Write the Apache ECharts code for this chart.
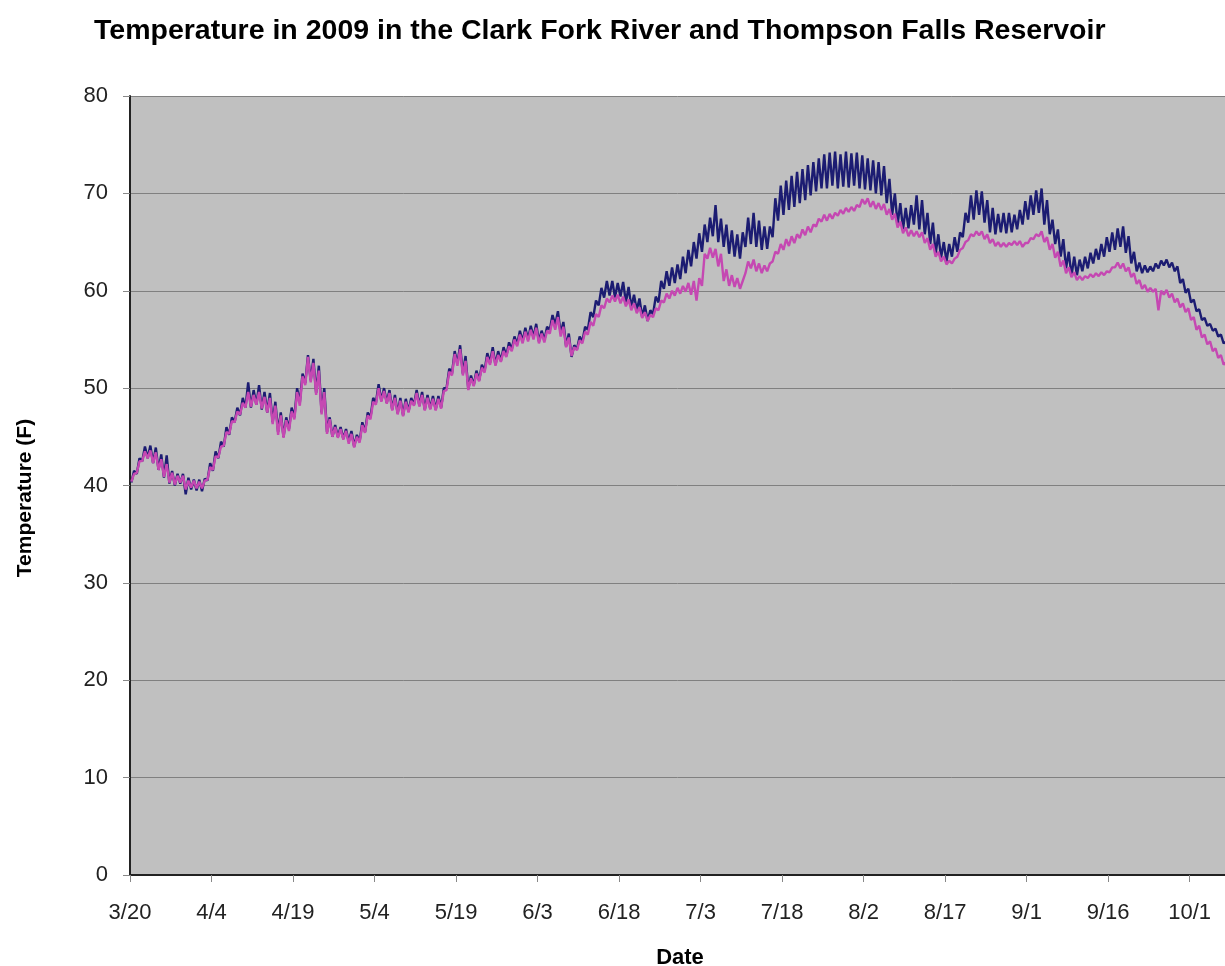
<!DOCTYPE html>
<html>
<head>
<meta charset="utf-8">
<script src="https://cdn.jsdelivr.net/npm/echarts@6/dist/echarts.min.js"></script>
<style>html,body{margin:0;padding:0;background:#fff;}#c{width:1225px;height:966px;}</style>
</head>
<body>
<div id="c"></div>
<script>
// Day offsets from 3/20/2009; one low (morning) and one high (afternoon) reading per day
const tickLabels = ['3/20','4/4','4/19','5/4','5/19','6/3','6/18','7/3','7/18','8/2','8/17','9/1','9/16','10/1'];

const riverLo = [
40.3,41.2,42.5,42.8,42.3,41.6,40.8,40.2,40.0,40.2,
39.1,39.6,39.5,39.4,40.5,41.5,42.8,44.0,45.2,46.5,
47.2,48.0,48.0,48.3,47.8,47.5,46.5,45.5,45.0,45.8,
47.0,48.5,50.5,50.8,49.5,47.5,45.5,45.0,45.0,44.8,
44.5,44.0,44.5,45.5,47.0,48.5,48.7,48.5,47.8,47.4,
47.2,47.6,48.3,48.2,47.8,47.9,47.8,48.0,50.0,51.5,
52.5,51.5,49.9,50.3,50.8,51.8,52.6,52.4,52.8,53.3,
54.0,54.5,54.8,55.0,55.2,54.8,54.9,56.0,56.5,55.6,
54.3,53.2,54.0,54.8,56.0,57.3,58.5,59.3,59.5,59.3,
59.4,58.8,58.3,58.0,57.3,56.9,57.6,58.8,60.2,60.5,
60.8,61.2,61.8,62.5,63.3,64.0,65.0,65.6,65.0,64.5,
63.8,63.5,63.3,64.5,64.8,64.5,64.2,64.3,65.5,67.2,
67.8,68.3,68.6,69.0,69.3,69.8,70.2,70.5,70.5,70.8,
70.5,70.7,70.6,70.8,70.5,70.4,70.3,70.0,69.8,69.0,
67.8,66.8,66.3,66.4,66.8,66.3,65.8,64.8,63.8,63.4,
63.0,63.5,64.0,65.5,67.0,67.3,67.8,67.0,66.0,65.8,
66.0,65.9,66.0,66.3,66.8,67.3,67.8,68.0,66.8,65.8,
64.8,63.5,62.3,61.5,61.6,62.0,62.3,62.8,63.2,63.5,
64.0,64.2,64.5,63.9,62.8,62.0,61.8,61.9,62.0,62.3,
62.6,62.4,62.0,60.8,59.8,58.8,57.9,57.0,56.4,55.9,
55.3,54.6,54.0];

const riverHi = [
41.5,42.8,44.0,44.1,43.9,43.2,43.1,41.5,41.2,41.2,
40.8,40.6,40.6,40.7,42.3,43.5,44.5,46.0,47.0,48.0,
49.0,50.6,49.8,50.3,49.6,49.5,48.6,47.5,47.0,48.0,
50.0,51.5,53.4,53.0,52.3,50.0,47.0,46.2,46.0,45.8,
45.6,45.2,46.5,47.5,49.0,50.4,50.0,49.8,49.3,49.0,
48.9,49.0,49.8,49.6,49.3,49.2,49.2,50.0,52.0,53.8,
54.4,53.3,51.3,51.8,52.4,53.6,54.2,53.8,54.2,54.7,
55.3,55.9,56.2,56.4,56.6,55.9,56.3,57.5,57.9,56.8,
55.6,54.4,55.3,56.3,57.8,59.0,60.3,61.0,61.0,60.8,
60.9,60.4,59.6,59.2,58.5,58.0,59.4,61.0,62.0,62.4,
62.7,63.5,64.2,65.0,65.9,66.8,67.5,68.8,67.4,66.8,
66.2,65.8,66.0,67.5,68.0,67.2,66.6,66.6,69.5,70.8,
71.3,71.8,72.2,72.5,72.9,73.2,73.6,74.0,74.2,74.3,
74.0,74.3,74.1,74.2,73.9,73.6,73.4,73.2,72.8,71.5,
70.0,69.0,68.5,68.8,69.8,69.3,68.0,67.0,65.8,65.0,
64.8,65.5,66.0,68.0,69.8,70.3,70.2,69.3,68.5,67.9,
68.0,68.0,67.8,68.3,69.2,69.8,70.3,70.5,69.3,67.3,
66.3,65.3,64.0,63.5,63.2,63.5,63.9,64.3,64.8,65.5,
66.0,66.4,66.6,65.6,64.0,62.9,62.6,62.5,62.8,63.1,
63.2,62.9,62.5,61.2,60.2,59.1,58.1,57.2,56.6,56.1,
55.5,54.8,54.2];

const reservoirLo = [
40.4,41.3,42.5,42.8,42.3,41.6,40.9,40.3,40.1,40.3,
39.6,39.8,39.7,39.7,40.6,41.6,42.9,44.1,45.3,46.5,
47.3,48.0,48.1,48.3,47.9,47.5,46.3,45.2,44.9,45.6,
46.8,48.2,50.3,50.6,49.3,47.3,45.3,45.0,44.9,44.7,
44.3,43.9,44.4,45.4,46.8,48.3,48.6,48.4,47.7,47.3,
47.1,47.5,48.2,48.1,47.7,47.8,47.7,47.9,49.8,51.3,
52.3,51.3,49.8,50.2,50.7,51.6,52.4,52.3,52.7,53.2,
53.8,54.3,54.6,54.8,55.0,54.6,54.7,55.6,56.0,55.3,
54.2,53.3,53.9,54.6,55.5,56.4,57.3,58.2,58.8,58.9,
58.7,58.4,58.0,57.7,57.2,56.9,57.3,58.0,58.8,59.2,
59.5,59.7,59.9,59.6,59.0,60.5,63.3,63.4,62.5,61.0,
60.5,60.4,60.2,61.8,62.3,62.0,61.8,62.0,63.0,63.8,
64.2,64.6,64.9,65.4,65.7,66.0,66.6,67.1,67.2,67.4,
67.7,67.9,68.1,68.2,68.6,68.9,68.6,68.4,68.3,67.8,
67.3,66.5,65.9,65.6,65.6,65.5,64.9,64.2,63.5,63.0,
62.7,62.8,63.5,64.4,65.2,65.6,65.7,65.3,64.9,64.6,
64.5,64.5,64.7,64.7,64.5,64.9,65.3,65.6,65.0,64.2,
63.4,62.5,61.8,61.4,61.1,61.1,61.3,61.4,61.5,61.6,
61.9,62.4,62.3,62.0,61.4,60.7,60.2,59.9,59.9,58.0,
59.6,59.3,58.8,58.3,57.8,57.0,56.0,55.2,54.5,53.8,
53.1,52.4,51.8];

const reservoirHi = [
41.2,42.5,43.5,43.6,43.4,42.7,42.2,41.3,41.0,41.0,
40.5,40.5,40.4,40.5,41.9,43.0,44.0,45.5,46.6,47.6,
48.5,49.6,49.3,49.6,49.1,49.0,48.2,47.2,46.7,47.6,
49.6,51.2,53.2,52.6,51.8,49.6,46.8,46.0,45.8,45.6,
45.3,45.0,46.2,47.2,48.6,50.0,49.7,49.5,49.0,48.7,
48.6,48.7,49.5,49.3,49.0,48.9,48.9,49.7,51.7,53.5,
54.0,52.8,51.0,51.5,52.1,53.2,53.8,53.4,53.8,54.3,
55.0,55.5,55.8,56.0,56.2,55.6,55.9,57.0,57.3,56.3,
55.2,54.2,54.9,55.8,56.8,57.6,58.5,59.2,59.5,59.6,
59.4,59.1,58.7,58.3,57.8,57.5,58.2,59.0,59.7,60.0,
60.3,60.5,60.8,61.0,61.3,63.8,64.4,64.3,63.8,62.2,
61.6,61.3,61.0,63.0,63.2,62.8,62.6,62.8,64.0,64.8,
65.3,65.6,65.8,66.3,66.6,66.8,67.4,67.8,67.9,68.0,
68.3,68.5,68.6,68.8,69.4,69.5,69.2,69.0,68.9,68.4,
67.9,67.1,66.5,66.2,66.1,66.0,65.4,64.8,64.0,63.5,
63.1,63.3,64.2,65.0,65.8,66.1,66.1,65.8,65.3,65.0,
64.9,64.9,65.1,65.1,64.9,65.4,65.8,66.1,65.5,64.8,
64.0,63.1,62.4,61.9,61.5,61.5,61.7,61.8,61.9,62.0,
62.4,62.9,62.8,62.4,61.8,61.1,60.6,60.3,60.2,60.0,
60.1,59.7,59.2,58.7,58.2,57.3,56.4,55.5,54.8,54.1,
53.4,52.7,52.0];

function pairs(lo, hi) {
  const out = [];
  for (let d = 0; d < lo.length; d++) {
    out.push([d + 0.25, lo[d]]);
    out.push([d + 0.75, hi[d]]);
  }
  return out;
}

const FONT = '"Liberation Sans", Arial, sans-serif';
const chart = echarts.init(document.getElementById('c'), null, {renderer: 'canvas'});
chart.setOption({
  animation: false,
  backgroundColor: '#ffffff',
  textStyle: {fontFamily: FONT},
  title: {
    text: 'Temperature in 2009 in the Clark Fork River and Thompson Falls Reservoir',
    left: 89, top: 12,
    textStyle: {fontFamily: FONT, fontSize: 28.5, fontWeight: 'bold', color: '#000'}
  },
  graphic: [
    {type: 'text', x: 25, y: 498, rotation: Math.PI / 2,
      style: {text: 'Temperature (F)', fontFamily: FONT, fontSize: 21, fontWeight: 'bold', fill: '#000', align: 'center', verticalAlign: 'middle'}},
    {type: 'text', x: 680, y: 958,
      style: {text: 'Date', fontFamily: FONT, fontSize: 22, fontWeight: 'bold', fill: '#000', align: 'center', verticalAlign: 'middle'}}
  ],
  grid: {left: 130, right: 0, top: 96, bottom: 91, outerBoundsMode: 'none', containLabel: false,
         show: true, backgroundColor: '#c0c0c0', borderWidth: 0},
  xAxis: {
    type: 'value', min: 0, max: 201.5, interval: 15,
    axisLine: {show: true, onZero: false, lineStyle: {color: '#222', width: 2}},
    axisTick: {show: true, length: 7, lineStyle: {color: '#888', width: 1}},
    axisLabel: {
      margin: 27, fontSize: 22, color: '#222', fontFamily: FONT, showMaxLabel: false,
      formatter: function (v) { const i = Math.round(v / 15); return (Math.abs(v - i * 15) < 1e-6 && tickLabels[i]) ? tickLabels[i] : ''; }
    },
    splitLine: {show: false}
  },
  yAxis: {
    type: 'value', min: 0, max: 80, interval: 10,
    axisLine: {show: true, lineStyle: {color: '#222', width: 2}},
    axisTick: {show: true, length: 7, lineStyle: {color: '#888', width: 1}},
    axisLabel: {margin: 22, fontSize: 22, color: '#222', fontFamily: FONT},
    splitLine: {show: true, lineStyle: {color: '#808080', width: 1}}
  },
  series: [
    {
      name: 'Clark Fork River', type: 'line', showSymbol: false, clip: true,
      data: pairs(riverLo, riverHi),
      lineStyle: {color: '#1c1c72', width: 2.4}, itemStyle: {color: '#1c1c72'}
    },
    {
      name: 'Thompson Falls Reservoir', type: 'line', showSymbol: false, clip: true,
      data: pairs(reservoirLo, reservoirHi),
      lineStyle: {color: '#c548b2', width: 2.4}, itemStyle: {color: '#c548b2'}
    }
  ]
});
</script>
</body>
</html>
